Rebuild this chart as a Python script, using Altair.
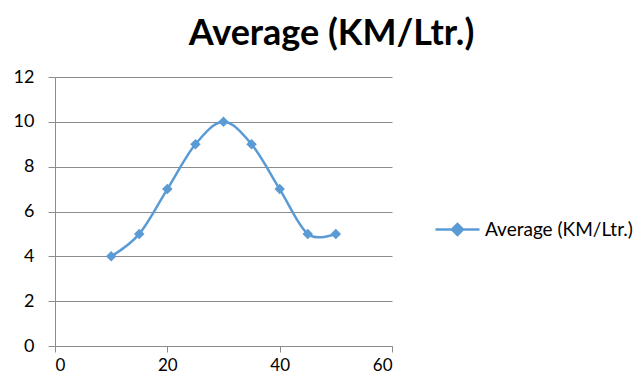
import altair as alt
import pandas as pd

x_vals = [10, 15, 20, 25, 30, 35, 40, 45, 50]
y_vals = [4, 5, 7, 9, 10, 9, 7, 5, 5]
series_name = "Average (KM/Ltr.)"
x_ticks = [0, 20, 40, 60]
y_ticks = [0, 2, 4, 6, 8, 10, 12]

df = pd.DataFrame({"x": x_vals, "y": y_vals, "series": [series_name] * len(x_vals)})

BLUE = "#5B9BD5"
GRID = "#8C8C8C"
FONT = "Lato"

color = alt.Color(
    "series:N",
    scale=alt.Scale(range=[BLUE]),
    legend=alt.Legend(
        title=None,
        orient="none",
        legendX=379,
        legendY=129,
        padding=0,
        symbolType="M-1,0H1M-0.25,0L0,-0.25L0.25,0L0,0.25Z",
        symbolSize=1936,
        symbolStrokeWidth=2.5,
        symbolFillColor=BLUE,
        symbolStrokeColor=BLUE,
        labelFont=FONT,
        labelFontSize=19,
        labelColor="#000000",
        labelOffset=4,
        labelLimit=300,
    ),
)

xenc = alt.X(
    "x:Q",
    scale=alt.Scale(domain=[0, 60], nice=False),
    axis=alt.Axis(
        values=x_ticks, title=None, grid=False, domain=True, domainColor=GRID,
        ticks=True, tickColor=GRID, tickSize=6, labelPadding=5,
        labelFont=FONT, labelFontSize=17, labelColor="#000000",
    ),
)
yenc = alt.Y(
    "y:Q",
    scale=alt.Scale(domain=[0, 12], nice=False),
    axis=alt.Axis(
        values=y_ticks, title=None, grid=True, gridColor=GRID, domain=True, domainColor=GRID,
        ticks=True, tickColor=GRID, tickSize=7, labelPadding=14,
        labelFont=FONT, labelFontSize=18, labelColor="#000000",
    ),
)

line = alt.Chart(df).mark_line(interpolate="cardinal", strokeWidth=2.5).encode(
    x=xenc, y=yenc, color=color
)
pts = alt.Chart(df).mark_point(shape="diamond", filled=True, size=110, opacity=1).encode(
    x=xenc, y=yenc, color=color
)

chart = (
    alt.layer(line, pts)
    .properties(
        width=337,
        height=269,
        autosize=alt.AutoSizeParams(type="none"),
        padding={"left": 47, "top": 69, "right": 242, "bottom": 30},
        title=alt.TitleParams(
            text="Average (KM/Ltr.)",
            font=FONT,
            fontSize=36,
            fontWeight="bold",
            color="#000000",
            anchor="middle",
            dx=108,
            offset=15,
        ),
    )
    .configure_view(stroke=None)
)

chart.save("out.html", embed_options={"renderer": "svg", "actions": False})
